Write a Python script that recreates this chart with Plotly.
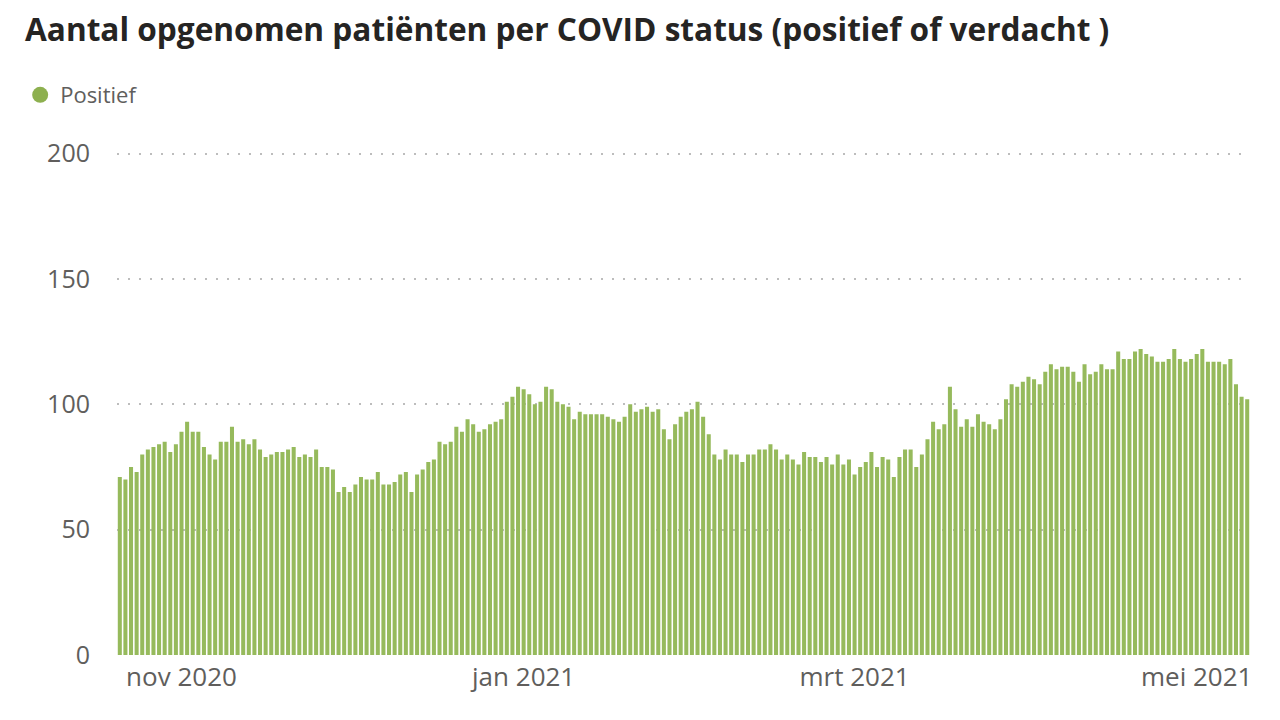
import pandas as pd
import plotly.graph_objects as go

title_text = "Aantal opgenomen patiënten per COVID status (positief of verdacht )"
series_name = "Positief"
start_date = "2020-10-21"
values = [
    71, 70, 75, 73, 80, 82, 83, 84, 85, 81, 84, 89, 93, 89, 89, 83, 80, 78, 85, 85, 91,
    85, 86, 84, 86, 82, 79, 80, 81, 81, 82, 83, 79, 80, 79, 82, 75, 75, 74, 65, 67,
    65, 68, 71, 70, 70, 73, 68, 68, 69, 72, 73, 65, 72, 74, 77, 78, 85, 84, 85, 91,
    89, 94, 92, 89, 90, 92, 93, 94, 101, 103, 107, 106, 104, 100, 101, 107, 106, 101, 100, 99,
    94, 97, 96, 96, 96, 96, 95, 94, 93, 95, 100, 97, 98, 99, 97, 98, 90, 86, 92, 95,
    97, 98, 101, 95, 88, 80, 78, 82, 80, 80, 77, 80, 80, 82, 82, 84, 82, 78, 80, 78,
    76, 81, 79, 79, 77, 79, 76, 80, 76, 78, 72, 75, 77, 81, 75, 79, 78, 71, 79, 82, 82,
    75, 80, 86, 93, 90, 92, 107, 98, 91, 94, 91, 96, 93, 92, 90, 94, 102, 108, 107, 109, 111,
    110, 108, 113, 116, 114, 115, 115, 113, 109, 116, 112, 113, 116, 114, 114, 121, 118, 118, 121, 122, 120,
    119, 117, 117, 118, 122, 118, 117, 118, 120, 122, 117, 117, 117, 116, 118, 108, 103, 102,
]
dates = pd.date_range(start_date, periods=len(values), freq="D")
tick_dates = ["2020-11-01", "2021-01-01", "2021-03-01", "2021-05-01"]
tick_labels = ["nov 2020", "jan 2021", "mrt 2021", "mei 2021"]
y_ticks = [0, 50, 100, 150, 200]

green = "#96BA5C"
font_family = "Open Sans, Noto Sans, sans-serif"

# page body has an 8px margin: figure coordinates are shifted accordingly
L, R, T, B = 107, 38, 144, 73
PW, PH = 1280 - L - R, 720 - T - B

fig = go.Figure()
fig.add_trace(go.Bar(
    x=dates, y=values, marker=dict(color=green, line=dict(width=0)),
    name=series_name, showlegend=False,
))
fig.add_trace(go.Scatter(
    x=[None], y=[None], mode="markers", name=series_name,
    marker=dict(symbol="circle", size=20, color="#8DB04F"),
))

x0 = dates[0] - pd.Timedelta(hours=12)
x1 = dates[-1] + pd.Timedelta(hours=12)

fig.update_layout(
    width=1280, height=720,
    margin=dict(l=L, r=R, t=T, b=B),
    paper_bgcolor="white", plot_bgcolor="white",
    bargap=0.28,
    font=dict(family=font_family, color="#605E5C"),
    title=dict(
        text=f"<b>{title_text}</b>",
        x=17 / 1280, xanchor="left", xref="container",
        y=1 - 22 / 720, yanchor="middle", yref="container",
        font=dict(size=31.6, color="#252423", family=font_family),
    ),
    legend=dict(
        x=(10 - L) / PW, xanchor="left",
        y=1 + (T - 87) / PH, yanchor="middle",
        orientation="h", font=dict(size=22, color="#605E5C"),
        itemwidth=30, bgcolor="rgba(0,0,0,0)",
    ),
    xaxis=dict(
        type="date", range=[x0, x1],
        tickvals=tick_dates, ticktext=tick_labels,
        showgrid=False, zeroline=False, showline=False,
        tickfont=dict(size=26, color="#605E5C"),
        ticks="", ticklabelstandoff=4,
    ),
    yaxis=dict(
        range=[0, 200.6], tickvals=y_ticks,
        showgrid=True, gridcolor="#BDBDBD", griddash="2px,9px", gridwidth=1.5,
        zeroline=False, showline=False,
        tickfont=dict(size=25, color="#605E5C"),
        ticks="", ticklabelstandoff=26,
    ),
)

fig.write_html("out.html")
